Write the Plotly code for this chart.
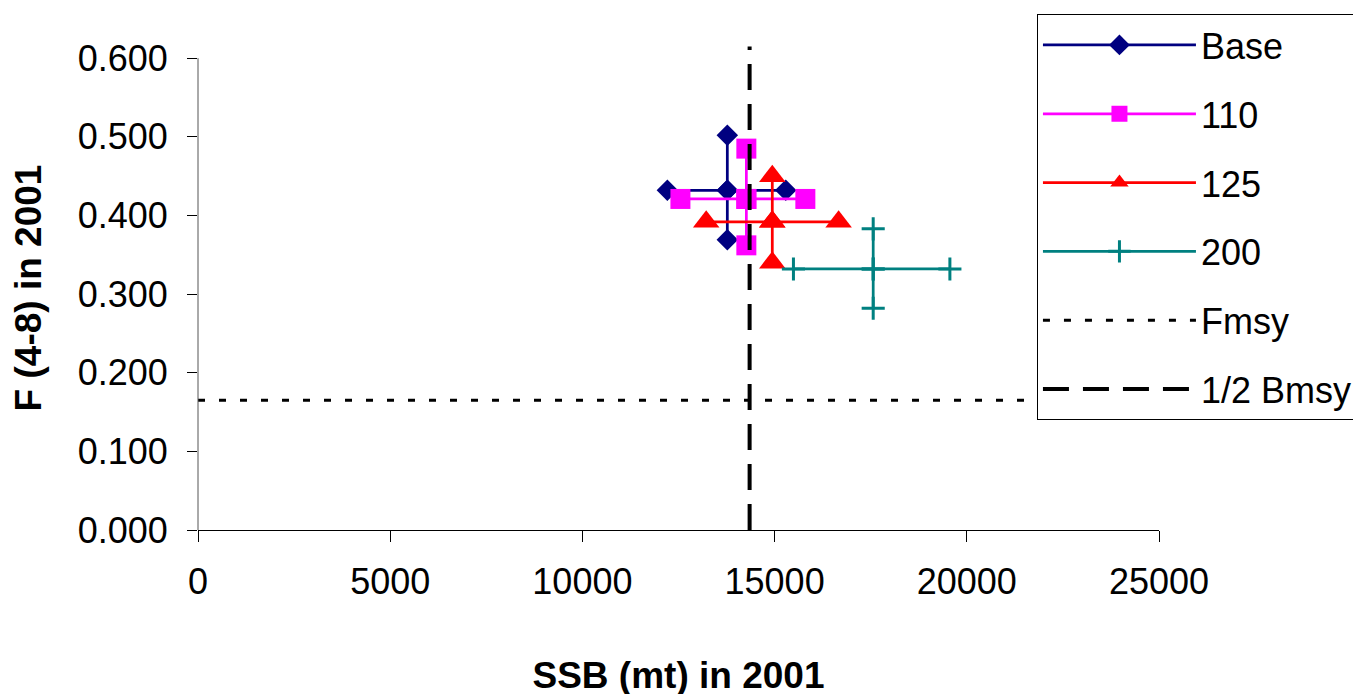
import plotly.graph_objects as go

# ---- data ----
series_names = ["Base", "110", "125", "200"]
# SSB (mt) in 2001: low, central, high
ssb_low = [12210, 12550, 13220, 15490]
ssb_mid = [13770, 14265, 14940, 17565]
ssb_high = [15290, 15800, 16665, 19560]
# F (4-8) in 2001: low, central, high
f_low = [0.369, 0.362, 0.340, 0.282]
f_mid = [0.432, 0.421, 0.392, 0.332]
f_high = [0.502, 0.485, 0.450, 0.383]

fmsy = 0.165
half_bmsy = 14350
bmsy_line_top = 0.615

x_ticks = [0, 5000, 10000, 15000, 20000, 25000]
y_ticks = [0.0, 0.1, 0.2, 0.3, 0.4, 0.5, 0.6]

colors = ["#000080", "#FF00FF", "#FF0000", "#008080"]
symbols = ["diamond", "square", "triangle-up", "cross-thin"]
sizes = [16.5, 20, 23, 16.5]

FONT = "Liberation Sans, Arial, sans-serif"

fig = go.Figure()

for i, name in enumerate(series_names):
    xs = [ssb_low[i], ssb_mid[i], ssb_high[i], None, ssb_mid[i], ssb_mid[i], ssb_mid[i]]
    ys = [f_mid[i], f_mid[i], f_mid[i], None, f_high[i], f_mid[i], f_low[i]]
    marker = dict(symbol=symbols[i], size=sizes[i], color=colors[i], line=dict(width=0))
    if symbols[i] == "cross-thin":
        marker["line"] = dict(width=3, color=colors[i])
    fig.add_trace(go.Scatter(
        x=xs, y=ys, mode="lines+markers", name=name,
        line=dict(color=colors[i], width=2.75),
        marker=marker, legendgroup=name,
        cliponaxis=False,
    ))

fig.add_trace(go.Scatter(
    x=[x_ticks[0], x_ticks[-1]], y=[fmsy, fmsy], mode="lines", name="Fmsy",
    line=dict(color="black", width=3, dash="7px,14px"), legendgroup="Fmsy",
))
fig.add_trace(go.Scatter(
    x=[half_bmsy, half_bmsy], y=[0, bmsy_line_top], mode="lines", name="1/2 Bmsy",
    line=dict(color="black", width=4, dash="26px,14px"), legendgroup="Bmsy",
))

# y axis line only up to the top tick
fig.add_shape(type="line", xref="paper", yref="y", x0=0, x1=0, y0=y_ticks[0], y1=y_ticks[-1],
              line=dict(color="#555555", width=1), layer="above")

# (the page body adds an 8px offset, so figure coordinates are screen - 8)
fig.update_layout(
    width=1361, height=694,
    margin=dict(l=190, r=210, t=38, b=172, autoexpand=False),
    paper_bgcolor="white", plot_bgcolor="white",
    font=dict(family=FONT, size=36, color="black"),
    showlegend=True,
    legend=dict(
        x=0.873, y=1.066, xanchor="left", yanchor="top",
        bgcolor="white", bordercolor="black", borderwidth=1,
        font=dict(family=FONT, size=36, color="black"),
        traceorder="grouped", tracegroupgap=19,
        itemwidth=153, maxheight=800,
    ),
    xaxis=dict(
        range=[0, 25000], tickvals=x_ticks, ticktext=[str(v) for v in x_ticks],
        ticks="outside", ticklen=11, tickwidth=1, tickcolor="black",
        showline=True, linecolor="black", linewidth=1, showgrid=False, zeroline=False,
        tickfont=dict(family=FONT, size=36), ticklabelstandoff=9, automargin=False,
        title=dict(text="<b>SSB (mt) in 2001</b>", font=dict(family=FONT, size=37), standoff=60),
    ),
    yaxis=dict(
        range=[0, 0.6155], tickvals=y_ticks, ticktext=[f"{v:.3f}" for v in y_ticks],
        ticks="outside", ticklen=10, tickwidth=1, tickcolor="black",
        showline=False, showgrid=False, zeroline=False,
        tickfont=dict(family=FONT, size=36), ticklabelstandoff=12, automargin=False,
        title=dict(text="<b>F (4-8) in 2001</b>", font=dict(family=FONT, size=37), standoff=28),
    ),
)

fig.write_html("out.html")
